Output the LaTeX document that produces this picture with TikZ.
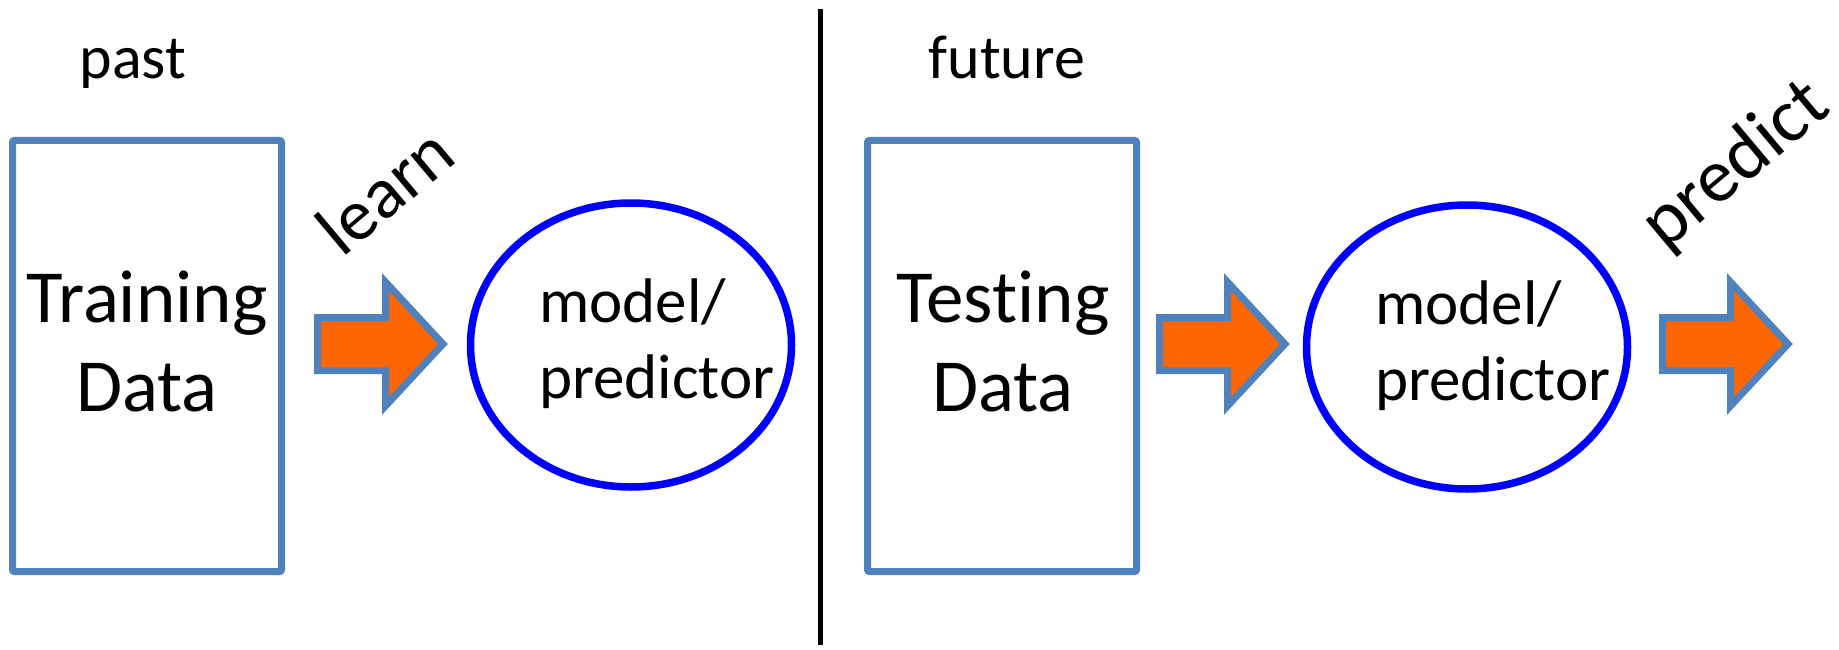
\documentclass[tikz,border=0pt]{standalone}
\usepackage{fontspec}
\setmainfont{Carlito}[Ligatures=NoCommon]
\usetikzlibrary{shapes.geometric}
\definecolor{boxblue}{HTML}{4F81BD}
\definecolor{arroworange}{HTML}{FF6600}
\definecolor{ellblue}{HTML}{0000FF}
\tikzset{
  databox/.style={draw=boxblue, line width=7pt, rounded corners=2pt, rectangle, minimum width=269pt, minimum height=431pt, inner sep=0pt},
  modelell/.style={draw=ellblue, line width=7.5pt, ellipse, minimum width=321pt, minimum height=284pt, inner sep=0pt},
  fatarrow/.style={draw=boxblue, fill=arroworange, line width=7pt, miter limit=10},
  bigtxt/.style={font=\fontsize{75}{89}\selectfont, inner sep=0pt, anchor=base},
  midtxt/.style={font=\fontsize{63}{76}\selectfont, inner sep=0pt, anchor=base west},
  toptxt/.style={font=\fontsize{62}{73}\selectfont, inner sep=0pt, anchor=base},
  rottxt/.style={inner sep=0pt, rotate=40},
}
\begin{document}
\begin{tikzpicture}[x=1pt,y=-1pt]
\useasboundingbox (0,0) rectangle (1839,650);
% divider
\coordinate (vtop) at (820,9);
\coordinate (vbot) at (820,645);
\draw[line width=5pt] (vtop) -- (vbot);
% headings
\node[toptxt] (past) at (133,79) {past};
\node[toptxt] (future) at (1007,79) {future};
% data boxes
\node[databox] (train) at (147,356) {};
\node[bigtxt] (trainA) at (147,322) {Training};
\node[bigtxt] (trainB) at (147,411) {Data};
\node[databox] (test) at (1002,356) {};
\node[bigtxt] (testA) at (1003,322) {Testing};
\node[bigtxt] (testB) at (1003,411) {Data};
% models
\node[modelell] (m1) at (631,345) {};
\node[midtxt] (m1a) at (539,322) {model/};
\node[midtxt] (m1b) at (539,398) {predictor};
\node[modelell] (m2) at (1467,347) {};
\node[midtxt] (m2a) at (1375,324) {model/};
\node[midtxt] (m2b) at (1375,400) {predictor};
% arrows
\coordinate (a1) at (317.5,344);
\coordinate (a2) at (1159.5,344);
\coordinate (a3) at (1662.5,344);
\foreach \a in {a1,a2,a3}{
  \draw[fatarrow] (\a) ++(0,-26.5) -- ++(68,0) -- ++(0,-35.5) -- ++(57.5,62) -- ++(-57.5,62) -- ++(0,-35.5) -- ++(-68,0) -- cycle;
}
% rotated labels
\node[rottxt, font=\fontsize{73}{80}\selectfont] (learn) at (385,190) {learn};
\node[rottxt, font=\fontsize{76}{80}\selectfont] (predict) at (1736,166) {predict};
\end{tikzpicture}
\end{document}
